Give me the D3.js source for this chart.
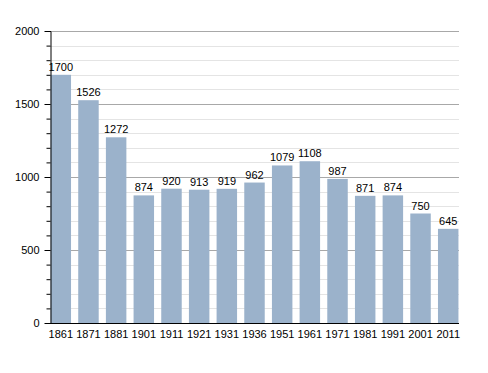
<!DOCTYPE html>
<html>
<head>
<meta charset="utf-8">
<script src="https://cdn.jsdelivr.net/npm/d3@7"></script>
<style>
  body { margin: 0; background: #fff; }
  svg text { font-family: "Liberation Sans", Arial, sans-serif; }
</style>
</head>
<body>
<div id="chart"></div>
<script>
// data
var years = ["1861", "1871", "1881", "1901", "1911", "1921", "1931", "1936", "1951", "1961", "1971", "1981", "1991", "2001", "2011"];
var population = [1700, 1526, 1272, 874, 920, 913, 919, 962, 1079, 1108, 987, 871, 874, 750, 645];
var yTicks = [0, 500, 1000, 1500, 2000];

var barColor = "#9bb2cb";

const width = 488, height = 373;
const margin = { top: 31, right: 29, bottom: 50, left: 50 };

const svg = d3.select("#chart")
  .append("svg")
  .attr("width", width)
  .attr("height", height);

const x = d3.scaleBand()
  .domain(years)
  .range([margin.left, width - margin.right])
  .paddingInner(0.26)
  .paddingOuter(0.02);

const y = d3.scaleLinear()
  .domain([0, 2000])
  .range([height - margin.bottom, margin.top]);

// minor grid every 100
svg.append("g")
  .selectAll("line")
  .data(d3.range(100, 2001, 100).filter(function (d) { return d % 500 !== 0; }))
  .enter()
  .append("line")
  .attr("x1", margin.left)
  .attr("x2", width - margin.right)
  .attr("y1", function (d) { return Math.round(y(d)) + 0.5; })
  .attr("y2", function (d) { return Math.round(y(d)) + 0.5; })
  .attr("stroke", "#e4e4e4")
  .attr("stroke-width", 1);

// major grid every 500
svg.append("g")
  .selectAll("line")
  .data(yTicks.slice(1))
  .enter()
  .append("line")
  .attr("x1", margin.left)
  .attr("x2", width - margin.right)
  .attr("y1", function (d) { return Math.round(y(d)) + 0.5; })
  .attr("y2", function (d) { return Math.round(y(d)) + 0.5; })
  .attr("stroke", "#a8a8a8")
  .attr("stroke-width", 1);

// bars
svg.append("g")
  .selectAll("rect")
  .data(population)
  .enter()
  .append("rect")
  .attr("x", function (d, i) { return x(years[i]); })
  .attr("y", function (d) { return y(d); })
  .attr("width", x.bandwidth())
  .attr("height", function (d) { return y(0) - y(d); })
  .attr("fill", barColor);

// value labels
svg.append("g")
  .selectAll("text")
  .data(population)
  .enter()
  .append("text")
  .attr("x", function (d, i) { return x(years[i]) + x.bandwidth() / 2; })
  .attr("y", function (d) { return y(d) - 4; })
  .attr("text-anchor", "middle")
  .style("font-size", "11px")
  .style("fill", "#000")
  .text(function (d) { return d; });

// y axis: minor ticks every 100, labels every 500
const yAxis = svg.append("g")
  .attr("transform", "translate(" + (margin.left + 0.5) + ",0)")
  .call(d3.axisLeft(y).tickValues(d3.range(0, 2001, 100)).tickSize(4)
    .tickFormat(function (d) { return d % 500 === 0 ? d : ""; }));
yAxis.select(".domain").attr("stroke", "#000");
yAxis.selectAll(".tick line").attr("stroke", "#000")
  .attr("x2", function (d) { return d % 500 === 0 ? -6 : -4; });
yAxis.selectAll(".tick text")
  .attr("x", -11)
  .style("font-size", "11px")
  .style("font-family", "Liberation Sans, Arial, sans-serif")
  .attr("fill", "#000");

// x axis
const xAxis = svg.append("g")
  .attr("transform", "translate(0," + (y(0) + 0.5) + ")")
  .call(d3.axisBottom(x).tickSize(0).tickSizeOuter(0));
xAxis.select(".domain").attr("stroke", "#000")
  .attr("d", "M" + margin.left + ",0H" + (width - margin.right));
xAxis.selectAll(".tick text")
  .attr("y", 7)
  .style("font-size", "11px")
  .style("font-family", "Liberation Sans, Arial, sans-serif")
  .attr("fill", "#000");
</script>
</body>
</html>
